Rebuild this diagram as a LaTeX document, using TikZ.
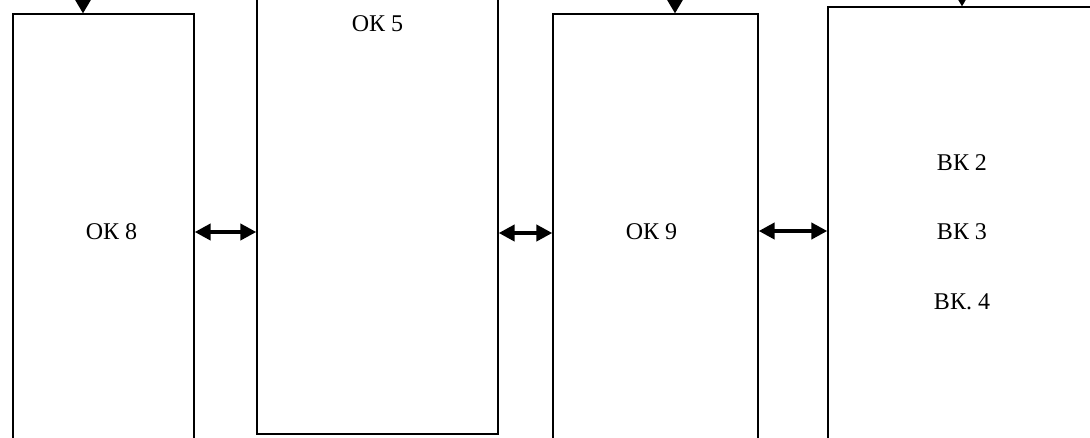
\documentclass[tikz,border=0pt]{standalone}
\usepackage{fontspec}
\setmainfont{Liberation Serif}
\usetikzlibrary{arrows.meta}

\begin{document}
\begin{tikzpicture}[x=0.75pt, y=-0.75pt,
  font=\fontsize{18}{22}\selectfont,
  box/.style={rectangle, draw, line width=1pt, inner sep=0pt},
  link/.style={{Triangle[length=12pt,width=12pt]}-{Triangle[length=12pt,width=12pt]}, line width=3pt},
  feed/.style={-{Triangle[length=10.5pt,width=12pt]}, line width=1.5pt}
  ]
  \useasboundingbox (0,0) rectangle (1090,437);
  \clip (0,0) rectangle (1090,437);

  \node[box, minimum width=135.75pt, minimum height=327pt,
    label={[xshift=6pt]center:ОК 8}] (ok8) at (103.5,232) {};
  \node[box, minimum width=180.75pt, minimum height=340.5pt,
    label={[anchor=north, yshift=-24pt]north:ОК 5}] (ok5) at (377.5,207) {};
  \node[box, minimum width=153.75pt, minimum height=327pt,
    label={[xshift=-3pt]center:ОК 9}] (ok9) at (655.5,232) {};
  \node[box, minimum width=201pt, minimum height=337.5pt, align=center]
    (vk) at (962,232) {ВК 2\\[30pt]ВК 3\\[30pt]ВК. 4};

  \coordinate (in8) at (83,-30);
  \coordinate (in9) at (675,-30);
  \coordinate (in4) at (962,-30);
  \draw[feed] (in8) -- (in8 |- ok8.north);
  \draw[feed] (in9) -- (in9 |- ok9.north);
  \draw[feed] (in4) -- (vk.north);

  \draw[link] (ok8.east) -- (ok8.east -| ok5.west);
  \draw[link] (ok9.west |- 0,233) -- (ok5.east |- 0,233);
  \draw[link] (ok9.east |- 0,231) -- (vk.west |- 0,231);
\end{tikzpicture}
\end{document}
